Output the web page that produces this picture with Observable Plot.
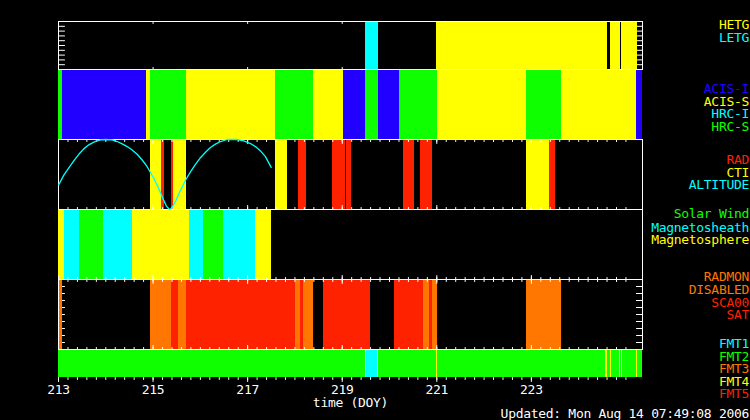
<!DOCTYPE html>
<html><head><meta charset="utf-8">
<script src="https://cdn.jsdelivr.net/npm/d3@7"></script>
<script src="https://cdn.jsdelivr.net/npm/@observablehq/plot@0.6"></script>
<style>
html,body{margin:0;padding:0;background:#000;}
#chart{position:relative;width:750px;height:420px;background:#000;overflow:hidden;
  font-family:"DejaVu Sans Mono",monospace;font-size:13px;letter-spacing:-0.3px;}
#chart svg{position:absolute;left:0;overflow:visible;}
.lg{position:absolute;right:1px;white-space:pre;line-height:11px;height:11px;}
</style></head><body><div id="chart"></div>
<script>
// ---------------- data ----------------
const X_DOMAIN = [213, 225.35];
const tickLabels = [213, 215, 217, 219, 221, 223];

// Panel 1: gratings
const gratStart = [219.49, 220.99, 224.67, 224.896];
const gratEnd   = [219.765, 224.607, 224.875, 225.235];
const gratName  = ["LETG", "HETG", "HETG", "HETG"];

// Panel 2: instruments (consecutive intervals)
const instBounds = [213.0, 213.085, 214.860, 214.945, 215.706, 217.588, 218.391, 219.025,
  219.490, 219.765, 220.209, 221.013, 222.894, 223.634, 225.220, 225.35];
const instName = ["HRC-S", "ACIS-I", "ACIS-S", "HRC-S", "ACIS-S", "HRC-S", "ACIS-S", "ACIS-I",
  "HRC-S", "ACIS-I", "HRC-S", "ACIS-S", "HRC-S", "ACIS-S", "ACIS-I"];

// Panel 3: RAD / CTI intervals and altitude (normalised)
const p3Start = [214.945, 215.178, 215.389, 215.431, 217.588, 218.074, 218.793, 219.089, 220.294, 220.653, 222.894, 223.381];
const p3End   = [215.178, 215.241, 215.431, 215.706, 217.835, 218.243, 219.068, 219.195, 220.526, 220.907, 223.381, 223.508];
const p3Name  = ["CTI", "RAD", "RAD", "CTI", "CTI", "RAD", "RAD", "RAD", "RAD", "RAD", "CTI", "RAD"];
const altDoy = [213.006, 213.112, 213.218, 213.323, 213.429, 213.535, 213.641, 213.746, 213.888, 213.994,
  214.135, 214.241, 214.347, 214.452, 214.558, 214.664, 214.770, 214.875, 214.945, 215.015, 215.087,
  215.156, 215.226, 215.283, 215.332, 215.368, 215.416, 215.474, 215.543, 215.615, 215.685, 215.791,
  215.896, 216.002, 216.108, 216.214, 216.319, 216.425, 216.567, 216.680, 216.778, 216.918, 217.059,
  217.165, 217.271, 217.376, 217.497];
const altVal = [0.356, 0.491, 0.596, 0.693, 0.789, 0.866, 0.924, 0.963, 0.996, 1.0,
  0.996, 0.971, 0.938, 0.899, 0.851, 0.789, 0.707, 0.611, 0.529, 0.443, 0.346,
  0.241, 0.130, 0.048, 0.010, 0.004, 0.048, 0.115, 0.226, 0.322, 0.418, 0.538,
  0.644, 0.740, 0.818, 0.885, 0.934, 0.971, 1.0, 1.0, 1.0, 0.981, 0.942,
  0.899, 0.837, 0.755, 0.602];

// Panel 4: regions (consecutive)
const regBounds = [213.0, 213.127, 213.444, 213.951, 214.564, 215.770, 216.066, 216.488, 217.165, 217.503];
const regName = ["Magnetosphere", "Magnetosheath", "Solar Wind", "Magnetosheath", "Magnetosphere",
  "Magnetosheath", "Solar Wind", "Magnetosheath", "Magnetosphere"];

// Panel 5: RADMON
const radStart = [213.0, 214.945, 215.389, 215.537, 215.706, 218.011, 218.116, 218.180, 218.603, 220.104, 220.717, 220.844, 220.907, 222.894];
const radEnd   = [213.085, 215.389, 215.537, 215.706, 218.011, 218.116, 218.180, 218.391, 219.596, 220.717, 220.844, 220.907, 221.013, 223.634];
const radName  = ["DIS", "DIS", "SAT", "DIS", "SAT", "DIS", "SAT", "DIS", "SAT", "SAT", "DIS", "SAT", "DIS", "DIS"];

// Panel 6: FMT (consecutive)
const fmtBounds = [213.0, 219.486, 219.507, 219.744, 219.761, 220.998, 221.019, 224.560, 224.600,
  224.670, 224.691, 224.860, 224.877, 224.896, 224.918, 225.220, 225.241, 225.35];
const fmtName = ["FMT2", "FMT4", "FMT1", "FMT4", "FMT2", "FMT4", "FMT2", "FMT4", "FMT2",
  "FMT4", "FMT2", "FMT4", "FMT2", "FMT4", "FMT2", "FMT4", "FMT2"];

// legends
const legendText  = ["HETG", "LETG", "ACIS-I", "ACIS-S", "HRC-I", "HRC-S", "RAD", "CTI", "ALTITUDE",
  "Solar Wind", "Magnetosheath", "Magnetosphere", "RADMON", "DISABLED", "SCA00", "SAT",
  "FMT1", "FMT2", "FMT3", "FMT4", "FMT5"];
const updatedText = "Updated: Mon Aug 14 07:49:08 2006";

// ---------------- styles / layout ----------------
const YELLOW = "#ffff00", CYAN = "#00ffff", GREEN = "#10ff00", BLUE = "#2200ff",
      RED = "#ff2200", ORANGE = "#ff7700";
const legendColor = [YELLOW, CYAN, BLUE, YELLOW, CYAN, GREEN, RED, YELLOW, CYAN,
  GREEN, CYAN, YELLOW, ORANGE, ORANGE, RED, RED, CYAN, GREEN, ORANGE, YELLOW, RED];
const legendBase = [29.3, 41.7, 93.3, 106, 118.3, 130.7, 164, 176.7, 189,
  218.3, 231.7, 244, 281, 294.3, 306.7, 319.3, 348.3, 360.7, 373.3, 386, 398.3];

const chart = document.getElementById("chart");
const minorTicks = d3.range(0, 61).map(i => 213 + i * 0.2);
const yTicks = d3.range(1, 10).map(i => i / 10);
const tickShape = {draw(ctx, l) { ctx.moveTo(0, 0); ctx.lineTo(0, -l); }};
function ticksX(values, edge, dir, len) {
  return Plot.vector(values, {x: d => d, frameAnchor: edge, length: len, rotate: dir === "up" ? 0 : 180,
    anchor: "start", shape: tickShape, stroke: "white", strokeWidth: 1});
}
function ticksY(values, edge, len) {
  return Plot.vector(values, {y: d => d, frameAnchor: edge, length: len, rotate: edge === "left" ? 90 : 270,
    anchor: "start", shape: tickShape, stroke: "white", strokeWidth: 1});
}
function seq(bounds, names) { return names.map((n, i) => ({x1: bounds[i], x2: bounds[i + 1], name: n})); }
function ivl(s, e, names) { return names.map((n, i) => ({x1: s[i], x2: e[i], name: n})); }
const bandOpts = {x1: "x1", x2: "x2", fill: "name", shapeRendering: "crispEdges"};

function panel(top, h, marks, color, mb = 5) {
  const svg = Plot.plot({
    width: 750, height: h + 5 + mb, marginTop: 5, marginBottom: mb, marginLeft: 58, marginRight: 108,
    x: {domain: X_DOMAIN, axis: null}, y: {domain: [0, 1], axis: null},
    color: color,
    style: {background: "transparent", color: "white", fontFamily: "'DejaVu Sans Mono', monospace",
      fontSize: "13px", letterSpacing: "-0.3px", overflow: "visible"},
    marks
  });
  svg.style.top = (top - 5) + "px";
  chart.appendChild(svg);
}

// Panel 2
panel(69, 70, [Plot.rect(seq(instBounds, instName), bandOpts)],
  {domain: ["ACIS-I", "ACIS-S", "HRC-I", "HRC-S"], range: [BLUE, YELLOW, CYAN, GREEN]});
// Panel 6
panel(349, 28, [
  Plot.rect(seq(fmtBounds, fmtName), bandOpts),
  ticksX(minorTicks, "bottom", "down", 2),
  ticksX(tickLabels, "bottom", "down", 4),
  Plot.text(tickLabels, {x: d => d, frameAnchor: "bottom", dy: 16, text: d => String(d), fill: "white"}),
  Plot.text(["time (DOY)"], {frameAnchor: "bottom", dy: 29, text: d => d, fill: "white"})
], {domain: ["FMT1", "FMT2", "FMT3", "FMT4", "FMT5"], range: [CYAN, GREEN, ORANGE, YELLOW, RED]}, 40);
// Panel 4
panel(209, 70, [
  Plot.frame({stroke: "white"}),
  Plot.rect(seq(regBounds, regName), bandOpts),
  ticksX(minorTicks, "bottom", "up", 2),
  ticksX(tickLabels, "bottom", "up", 4)
], {domain: ["Solar Wind", "Magnetosheath", "Magnetosphere"], range: [GREEN, CYAN, YELLOW]});
// Panel 1
panel(21, 48, [
  ticksY(yTicks, "left", 6), ticksY(yTicks, "right", 6),
  ticksX(tickLabels, "top", "down", 2), ticksX(tickLabels, "bottom", "up", 2),
  Plot.rect(ivl(gratStart, gratEnd, gratName), bandOpts),
  Plot.frame({stroke: "white"})
], {domain: ["HETG", "LETG"], range: [YELLOW, CYAN]});
// Panel 3
panel(139, 70, [
  Plot.rect(ivl(p3Start, p3End, p3Name), bandOpts),
  Plot.frame({stroke: "white"}),
  ticksX(minorTicks, "top", "down", 2), ticksX(tickLabels, "top", "down", 4),
  ticksX(minorTicks, "bottom", "up", 2), ticksX(tickLabels, "bottom", "up", 4),
  Plot.line(altDoy.map((d, i) => ({doy: d, alt: altVal[i]})), {x: "doy", y: "alt", stroke: CYAN, strokeWidth: 1.3})
], {domain: ["RAD", "CTI"], range: [RED, YELLOW]});
// Panel 5
panel(279, 70, [
  ticksY(yTicks, "left", 6), ticksY(yTicks, "right", 6),
  Plot.rect(ivl(radStart, radEnd, radName), bandOpts),
  Plot.frame({stroke: "white"}),
  ticksX(minorTicks, "top", "down", 2), ticksX(tickLabels, "top", "down", 4),
  ticksX(minorTicks, "bottom", "up", 2), ticksX(tickLabels, "bottom", "up", 4)
], {domain: ["DIS", "SAT"], range: [ORANGE, RED]});

// legends (line box 11px: baseline sits ~10px below the box top)
legendText.forEach((t, i) => {
  const d = document.createElement("div");
  d.className = "lg"; d.textContent = t; d.style.color = legendColor[i];
  d.style.top = (legendBase[i] - 10) + "px";
  chart.appendChild(d);
});
const up = document.createElement("div");
up.className = "lg"; up.textContent = updatedText; up.style.color = "white"; up.style.top = "408px";
chart.appendChild(up);
</script></body></html>
